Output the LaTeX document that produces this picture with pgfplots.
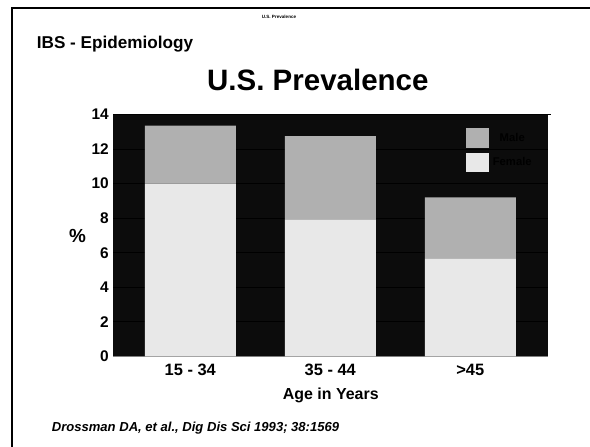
\documentclass[border=0pt]{standalone}
\usepackage{fontspec}
\setmainfont{Liberation Sans}
\usepackage{pgfplots}
\pgfplotsset{compat=1.18}
\definecolor{bg}{HTML}{0C0C0C}
\definecolor{male}{HTML}{B0B0B0}
\definecolor{female}{HTML}{E8E8E8}
\begin{document}
\begin{tikzpicture}
\path[use as bounding box] (0,0) rectangle (590bp,447bp);
\draw[line width=2bp] (590bp,439bp) -- (12bp,439bp) -- (12bp,0bp);
\node[font=\bfseries\fontsize{4.6}{6}\selectfont, inner sep=0pt, anchor=base] at (279bp,447bp-19bp) {U.S. Prevalence};
\node[font=\bfseries\fontsize{17.2}{19}\selectfont, inner sep=0pt, anchor=base west] at (36.7bp,447bp-48.3bp) {IBS - Epidemiology};
\node[font=\bfseries\fontsize{29.6}{34}\selectfont, inner sep=0pt, anchor=base west] at (207bp,447bp-91bp) {U.S. Prevalence};
\node[font=\bfseries\itshape\fontsize{13.1}{15}\selectfont, inner sep=0pt, anchor=base west] at (51.7bp,447bp-431.7bp) {Drossman DA, et al., Dig Dis Sci 1993; 38:1569};
\begin{axis}[
  at={(113.3bp,90.5bp)}, anchor=south west,
  scale only axis, width=435bp, height=242bp,
  xmin=-0.55, xmax=2.557, ymin=0, ymax=14,
  ybar stacked, bar width=91bp,
  axis x line*=bottom, axis y line*=left,
  x axis line style={draw=gray, line width=1.5bp},
  y axis line style={draw=none},
  axis background/.style={fill=bg},
  xtick={0,1,2}, xticklabels={15 - 34, 35 - 44, >45},
  ytick={0,2,...,14},
  major tick length=0pt,
  tick style={draw=none},
  ymajorgrids,
  major grid style={black, line width=0.9bp, shorten >=-3bp},
  /pgf/number format/assume math mode=true,
  yticklabel={\textbf{\pgfmathprintnumber{\tick}}},
  yticklabel style={font=\bfseries\fontsize{15.5}{17}\selectfont, inner sep=0pt, xshift=-4.3bp},
  xticklabel style={font=\bfseries\fontsize{16.5}{18}\selectfont, inner sep=0pt, anchor=base, yshift=-19.5bp},
  xlabel={Age in Years},
  xlabel style={font=\bfseries\fontsize{16}{18}\selectfont, inner sep=0pt, at={(axis description cs:0.5,0)}, anchor=base, yshift=-42.5bp},
  ylabel={\%},
  ylabel style={font=\bfseries\fontsize{19}{21}\selectfont, inner sep=0pt, at={(axis description cs:-0.082,0.498)}, anchor=center, rotate=-90},
  legend style={at={(axis description cs:0.81,0.943)}, anchor=north west, draw=none, fill=none, inner sep=0pt,
    font=\bfseries\fontsize{11.3}{13}\selectfont, text=black, row sep=4.5bp,
    nodes={inner sep=0pt}, column sep=3.7bp},
  legend image code/.code={\fill[#1] (0bp,-9.85bp) rectangle (23.3bp,9.85bp);},
  reverse legend,
]
\addplot[fill=female, draw=none] coordinates {(0,10) (1,7.9) (2,5.65)};
\addlegendentry{Female}
\addplot[fill=male, draw=none] coordinates {(0,3.35) (1,4.85) (2,3.55)};
\addlegendentry{Male}
\end{axis}
\end{tikzpicture}
\end{document}
